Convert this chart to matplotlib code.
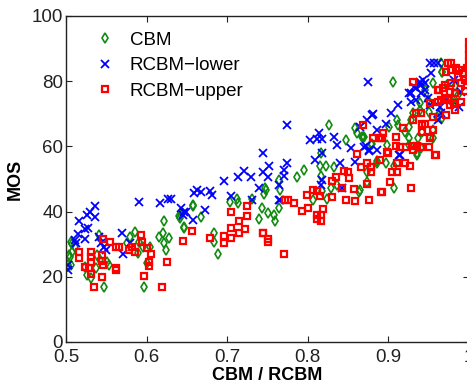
import matplotlib
matplotlib.use("Agg")
import matplotlib.pyplot as plt

plt.rcParams['font.family'] = ['Liberation Sans', 'DejaVu Sans']

# ---- data ----
cbm_x = [0.503, 0.505, 0.507, 0.504, 0.506, 0.508, 0.506, 0.511, 0.524, 0.526, 0.531, 0.537, 0.539, 0.541,
         0.542, 0.547, 0.551, 0.553, 0.576, 0.580, 0.585, 0.589, 0.590, 0.595, 0.597, 0.601, 0.604, 0.615,
         0.620, 0.621, 0.622, 0.624, 0.628, 0.640, 0.641, 0.643, 0.646, 0.647, 0.657, 0.658, 0.668, 0.684,
         0.684, 0.689, 0.704, 0.712, 0.713, 0.731, 0.739, 0.743, 0.746, 0.747, 0.748, 0.750, 0.758, 0.759,
         0.764, 0.764, 0.766, 0.786, 0.795, 0.807, 0.815, 0.816, 0.816, 0.818, 0.822, 0.824, 0.826, 0.829,
         0.832, 0.836, 0.848, 0.859, 0.861, 0.864, 0.865, 0.867, 0.868, 0.870, 0.873, 0.874, 0.879, 0.880,
         0.886, 0.886, 0.897, 0.898, 0.901, 0.906, 0.907, 0.907, 0.911, 0.912, 0.920, 0.925, 0.926, 0.926,
         0.928, 0.931, 0.936, 0.936, 0.937, 0.939, 0.939, 0.941, 0.942, 0.945, 0.949, 0.950, 0.955, 0.955,
         0.955, 0.960, 0.964, 0.965, 0.966, 0.966, 0.967, 0.973, 0.979, 0.980, 0.983, 0.986]
cbm_y = [23.5, 26.0, 30.0, 26.7, 30.8, 27.7, 23.6, 29.0, 23.1, 20.6, 19.5, 22.6, 26.7, 32.8,
         25.2, 17.0, 24.6, 23.6, 30.3, 32.3, 33.8, 27.2, 30.8, 29.2, 17.0, 24.1, 29.0, 32.3,
         33.3, 37.2, 30.3, 28.2, 31.8, 38.7, 38.0, 39.0, 34.9, 35.2, 42.0, 41.8, 38.4, 33.5,
         30.8, 26.9, 42.8, 43.9, 42.5, 44.0, 37.6, 41.0, 45.3, 47.1, 46.6, 39.5, 39.0, 37.2,
         41.0, 49.7, 46.6, 50.7, 52.8, 43.6, 54.0, 50.9, 57.9, 46.4, 54.0, 43.8, 66.6, 47.1,
         53.8, 48.2, 62.0, 65.5, 64.0, 46.1, 46.6, 62.8, 63.0, 63.0, 49.2, 52.2, 60.6, 60.7,
         55.4, 54.8, 55.0, 60.4, 66.1, 79.8, 54.0, 47.1, 68.1, 66.6, 64.5, 66.1, 62.5, 60.4,
         68.1, 70.1, 57.4, 57.9, 62.5, 73.2, 71.2, 59.4, 64.5, 77.3, 74.2, 70.6, 79.3, 65.0,
         62.5, 69.1, 70.1, 85.5, 82.7, 68.6, 82.9, 78.8, 73.7, 74.2, 78.5, 75.8]

lower_x = [0.502, 0.503, 0.511, 0.512, 0.515, 0.516, 0.523, 0.524, 0.526, 0.527, 0.530, 0.536, 0.536,
           0.541, 0.543, 0.547, 0.550, 0.570, 0.571, 0.580, 0.591, 0.617, 0.627, 0.630, 0.643, 0.645,
           0.646, 0.649, 0.657, 0.659, 0.662, 0.668, 0.672, 0.679, 0.681, 0.696, 0.705, 0.714, 0.721,
           0.729, 0.731, 0.739, 0.745, 0.745, 0.750, 0.752, 0.764, 0.764, 0.766, 0.770, 0.770, 0.774,
           0.774, 0.803, 0.809, 0.812, 0.814, 0.816, 0.817, 0.818, 0.818, 0.832, 0.836, 0.840, 0.843,
           0.853, 0.859, 0.865, 0.870, 0.872, 0.874, 0.875, 0.876, 0.876, 0.880, 0.881, 0.886, 0.886,
           0.897, 0.903, 0.912, 0.913, 0.915, 0.926, 0.928, 0.928, 0.932, 0.934, 0.934, 0.939, 0.940,
           0.940, 0.943, 0.945, 0.945, 0.949, 0.951, 0.951, 0.953, 0.957, 0.961, 0.962, 0.964, 0.965,
           0.972, 0.982, 0.987, 0.990]
lower_y = [23.5, 22.1, 31.3, 30.4, 33.0, 37.2, 34.7, 31.6, 39.0, 35.0, 40.0, 41.8, 38.4,
           32.3, 30.4, 29.2, 28.2, 33.3, 27.0, 30.3, 42.8, 42.5, 44.0, 44.0, 41.0, 39.0,
           40.0, 40.0, 37.4, 45.6, 46.6, 46.0, 40.5, 46.4, 45.0, 49.5, 44.8, 50.7, 52.5,
           50.5, 43.6, 47.1, 57.9, 52.0, 50.7, 54.0, 48.2, 43.6, 43.7, 52.8, 50.9, 55.0,
           66.6, 62.0, 55.8, 62.2, 64.0, 48.2, 58.1, 62.2, 49.7, 62.8, 60.4, 55.0, 47.1,
           59.4, 55.2, 66.1, 59.9, 60.1, 68.1, 79.8, 58.7, 58.9, 69.6, 70.0, 65.0, 58.9,
           67.0, 70.1, 72.7, 57.4, 57.4, 76.3, 73.7, 76.3, 78.3, 77.8, 74.2, 79.8, 78.8,
           76.3, 80.5, 79.3, 77.3, 74.7, 85.5, 72.7, 82.4, 85.5, 68.1, 85.5, 72.2, 70.1,
           74.2, 80.4, 72.2, 76.8]

upper_x = [0.516, 0.516, 0.523, 0.529, 0.531, 0.531, 0.531, 0.531, 0.535, 0.545, 0.545, 0.546, 0.545,
           0.546, 0.555, 0.562, 0.562, 0.562, 0.566, 0.578, 0.582, 0.585, 0.593, 0.594, 0.601, 0.603,
           0.603, 0.606, 0.597, 0.619, 0.625, 0.645, 0.656, 0.679, 0.696, 0.696, 0.705, 0.705, 0.705,
           0.715, 0.715, 0.722, 0.724, 0.725, 0.744, 0.745, 0.751, 0.751, 0.770, 0.772, 0.775, 0.783,
           0.793, 0.799, 0.800, 0.806, 0.811, 0.811, 0.812, 0.815, 0.816, 0.816, 0.819, 0.830, 0.830,
           0.835, 0.842, 0.845, 0.847, 0.850, 0.851, 0.857, 0.858, 0.861, 0.866, 0.868, 0.873, 0.873,
           0.876, 0.878, 0.879, 0.879, 0.881, 0.888, 0.890, 0.891, 0.892, 0.891, 0.892, 0.893, 0.898,
           0.900, 0.902, 0.904, 0.909, 0.910, 0.911, 0.911, 0.915, 0.918, 0.920, 0.922, 0.927, 0.928,
           0.930, 0.930, 0.930, 0.931, 0.934, 0.936, 0.940, 0.941, 0.942, 0.942, 0.942, 0.945, 0.950,
           0.951, 0.951, 0.951, 0.955, 0.955, 0.958, 0.959, 0.961, 0.961, 0.963, 0.965, 0.968, 0.970,
           0.970, 0.971, 0.972, 0.974, 0.974, 0.976, 0.977, 0.978, 0.978, 0.978, 0.982, 0.983, 0.983,
           0.984, 0.986, 0.988, 0.990, 0.990, 0.993, 0.995, 0.995, 0.998, 1.0, 1.0, 1.0, 1.0, 1.0,
           1.0, 1.0]
upper_y = [27.7, 25.7, 22.9, 22.6, 27.7, 26.2, 24.6, 21.0, 17.0, 26.7, 25.0, 23.6, 19.8,
           31.6, 30.6, 22.1, 22.6, 29.0, 29.0, 28.2, 29.2, 27.7, 32.8, 30.8, 28.7, 24.6,
           23.3, 27.0, 20.2, 17.0, 24.4, 31.0, 34.0, 32.0, 30.3, 32.6, 31.8, 40.0, 35.0,
           37.2, 33.3, 34.6, 41.7, 38.7, 33.3, 33.5, 30.8, 31.5, 26.9, 43.6, 43.6, 42.5,
           40.3, 45.1, 41.2, 46.6, 39.0, 37.6, 46.4, 44.9, 39.0, 37.2, 40.7, 49.5, 44.6,
           50.7, 47.1, 52.5, 43.6, 52.0, 50.2, 46.8, 43.3, 57.7, 53.8, 66.6, 55.0, 48.5,
           43.6, 53.8, 52.2, 53.6, 62.5, 62.5, 55.8, 62.5, 62.5, 46.1, 45.9, 64.0, 58.4,
           58.1, 49.2, 52.0, 63.0, 60.1, 54.8, 52.2, 59.7, 65.7, 54.8, 59.9, 54.0, 47.1,
           79.8, 68.1, 58.9, 60.1, 70.1, 60.1, 59.9, 70.1, 66.9, 64.5, 66.6, 67.0, 59.9,
           62.8, 73.2, 62.5, 65.0, 69.1, 57.4, 57.4, 77.3, 73.7, 77.3, 74.2, 77.8, 74.7,
           78.8, 69.6, 82.7, 85.5, 74.2, 76.8, 72.7, 85.5, 83.4, 79.3, 73.2, 71.2, 76.3,
           84.0, 81.4, 83.4, 79.3, 73.7, 82.4, 80.4, 77.0, 84.0, 80.0, 82.0, 84.0, 86.0,
           88.0, 90.0, 92.0]

x_ticks = [0.5, 0.6, 0.7, 0.8, 0.9, 1.0]
x_tick_labels = ['0.5', '0.6', '0.7', '0.8', '0.9', '1']
y_ticks = [0, 20, 40, 60, 80, 100]
y_tick_labels = ['0', '20', '40', '60', '80', '100']

# ---- figure ----
W, H = 467, 387
fig = plt.figure(figsize=(W / 100, H / 100), dpi=100)
fig.patch.set_facecolor('white')
ax = fig.add_axes([66 / W, 45 / H, 403 / W, 326 / H])

ax.plot(cbm_x, cbm_y, linestyle='none', marker='d', markersize=5.5, markerfacecolor='none',
        markeredgecolor='#108a10', markeredgewidth=1.2, label='CBM')
ax.plot(lower_x, lower_y, linestyle='none', marker='x', markersize=5.5,
        markeredgecolor='#0000ff', markeredgewidth=1.3, label='RCBM\u2212lower')
ax.plot(upper_x, upper_y, linestyle='none', marker='s', markersize=4.3, markerfacecolor='none',
        markeredgecolor='#ff0000', markeredgewidth=1.6, label='RCBM\u2212upper')

ax.set_xlim(0.5, 1.0)
ax.set_ylim(0, 100)
ax.set_xticks(x_ticks)
ax.set_xticklabels(x_tick_labels)
ax.set_yticks(y_ticks)
ax.set_yticklabels(y_tick_labels)
ax.tick_params(direction='in', top=True, right=True, length=4, width=0.8,
               labelsize=13.5, colors='#222222')
ax.tick_params(axis='x', pad=5)
ax.tick_params(axis='y', pad=2)
for s in ax.spines.values():
    s.set_linewidth(1.0)
    s.set_color('#222222')

ax.set_xlabel('CBM / RCBM', fontsize=13, fontweight='bold', labelpad=1)
ax.set_ylabel('MOS', fontsize=13, fontweight='bold', labelpad=6)

leg = ax.legend(loc='upper left', bbox_to_anchor=(0.06, 0.975), frameon=False, fontsize=13.5,
                handlelength=0.8, handletextpad=0.9, labelspacing=0.45, borderaxespad=0)

fig.savefig('out.png', dpi=100)
